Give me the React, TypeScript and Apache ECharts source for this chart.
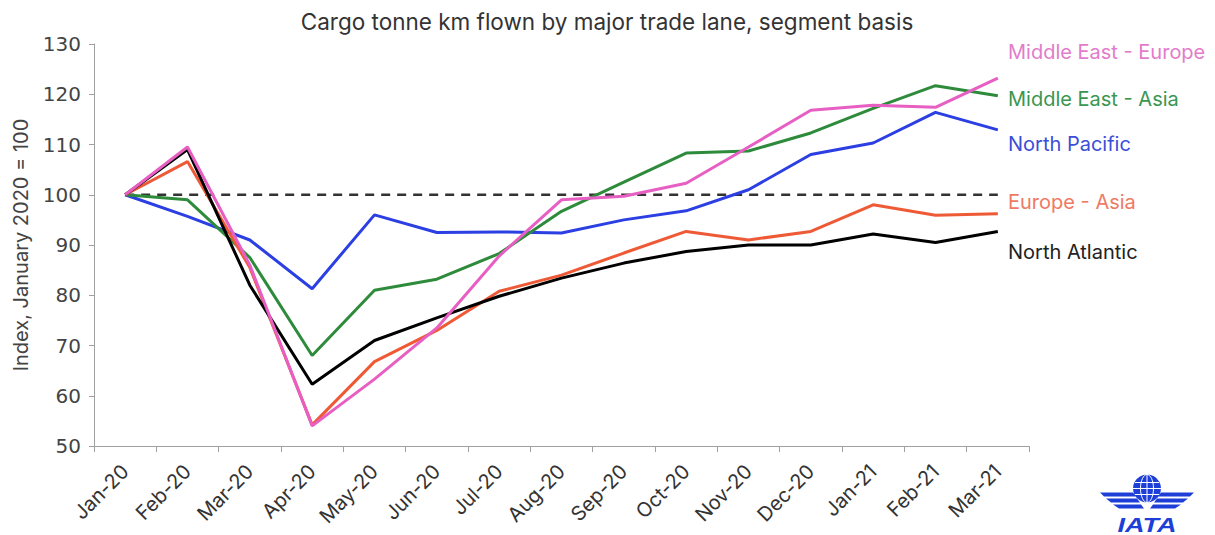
import React, { useEffect, useRef } from "react";
import * as echarts from "echarts";

const categories = [
  "Jan-20", "Feb-20", "Mar-20", "Apr-20", "May-20", "Jun-20", "Jul-20", "Aug-20",
  "Sep-20", "Oct-20", "Nov-20", "Dec-20", "Jan-21", "Feb-21", "Mar-21",
];

const middleEastEurope = [100, 109.5, 86, 54, 63.3, 73.5, 87.8, 99, 99.7, 102.3, 109.5, 116.8, 117.8, 117.4, 123.2];
const middleEastAsia = [100, 99, 87.5, 68, 81, 83.2, 88.3, 96.7, 102.5, 108.3, 108.7, 112.3, 117.2, 121.7, 119.7];
const northPacific = [100, 95.7, 91, 81.3, 96, 92.5, 92.6, 92.4, 95, 96.8, 101, 108, 110.3, 116.4, 112.9];
const europeAsia = [100, 106.6, 85.5, 54.2, 66.8, 73, 80.8, 84, 88.4, 92.7, 91, 92.7, 98, 95.9, 96.2];
const northAtlantic = [100, 109, 82, 62.3, 71, 75.5, 79.8, 83.4, 86.4, 88.7, 90, 90, 92.2, 90.5, 92.7];
const baseline = categories.map(() => 100);

const yTicks = { min: 50, max: 130, interval: 10 };

const labels = [
  { text: "Middle East - Europe", color: "#e27ccb", y: 54 },
  { text: "Middle East - Asia", color: "#3a9651", y: 101 },
  { text: "North Pacific", color: "#3b4ed8", y: 146 },
  { text: "Europe - Asia", color: "#ee7a63", y: 204 },
  { text: "North Atlantic", color: "#222222", y: 254 },
];

export default function App() {
  const ref = useRef<HTMLDivElement>(null);

  useEffect(() => {
    if (!ref.current) return;
    const chart = echarts.init(ref.current, null, { renderer: "svg" });
    const font = "Inter, 'Noto Sans', sans-serif";
    const numFont = "'DejaVu Sans', sans-serif";
    const mk = (name: string, data: number[], color: string, width = 3, dashed = false, z = 2) => ({
      name,
      type: "line",
      data,
      symbol: "none",
      z,
      lineStyle: { color, width, type: dashed ? [9, 7] : "solid" },
      itemStyle: { color },
      emphasis: { disabled: true },
    });
    const blue = "#2b3fe2";
    const iataBlue = "#1d3fd8";
    chart.setOption({
      animation: false,
      textStyle: { fontFamily: font },
      title: {
        text: "Cargo tonne km flown by major trade lane, segment basis",
        left: 602,
        top: 5,
        textAlign: "center",
        textStyle: { fontSize: 22.5, fontWeight: "normal", color: "#333", fontFamily: font },
      },
      grid: { left: 94, right: 186, top: 44, bottom: 89, containLabel: false },
      xAxis: {
        type: "category",
        data: categories,
        boundaryGap: true,
        axisLine: { lineStyle: { color: "#a0a0a0", width: 1 } },
        axisTick: { show: true, length: 6, lineStyle: { color: "#a0a0a0" } },
        axisLabel: { rotate: 45, interval: 0, fontSize: 20, color: "#333", margin: 22, fontFamily: font },
        splitLine: { show: false },
      },
      yAxis: {
        type: "value",
        min: yTicks.min,
        max: yTicks.max,
        interval: yTicks.interval,
        name: "Index, January 2020 = 100",
        nameLocation: "middle",
        nameRotate: 90,
        nameGap: 63,
        nameTextStyle: { fontSize: 20, color: "#444", fontFamily: font },
        axisLine: { show: true, lineStyle: { color: "#a0a0a0", width: 1 } },
        axisTick: { show: true, length: 5, lineStyle: { color: "#a0a0a0" } },
        axisLabel: { fontSize: 20, color: "#444", margin: 13, fontFamily: numFont },
        splitLine: { show: false },
      },
      series: [
        mk("Baseline", baseline, "#333333", 2.5, true, 1),
        mk("North Pacific", northPacific, blue),
        mk("Middle East - Asia", middleEastAsia, "#2e8b3c"),
        mk("Europe - Asia", europeAsia, "#ef5a36"),
        mk("North Atlantic", northAtlantic, "#000000"),
        mk("Middle East - Europe", middleEastEurope, "#e85fc3"),
      ],
      graphic: [
        ...labels.map((l) => ({
          type: "text",
          left: 1008,
          top: l.y - 12,
          style: { text: l.text, fill: l.color, fontSize: 20, fontFamily: font },
        })),
        {
          type: "group",
          left: 1100,
          top: 472,
          children: [
            { type: "circle", shape: { cx: 47, cy: 15, r: 14 }, style: { fill: iataBlue } },
            { type: "ellipse", shape: { cx: 47, cy: 15, rx: 6.5, ry: 14 }, style: { fill: "none", stroke: "#ffffff", lineWidth: 1 } },
            { type: "line", shape: { x1: 47, y1: 1, x2: 47, y2: 29 }, style: { stroke: "#ffffff", lineWidth: 1 } },
            { type: "line", shape: { x1: 35, y1: 9, x2: 59, y2: 9 }, style: { stroke: "#ffffff", lineWidth: 1 } },
            { type: "line", shape: { x1: 33, y1: 15, x2: 61, y2: 15 }, style: { stroke: "#ffffff", lineWidth: 1 } },
            { type: "line", shape: { x1: 35, y1: 21, x2: 59, y2: 21 }, style: { stroke: "#ffffff", lineWidth: 1 } },
            { type: "polygon", shape: { points: [[0, 19], [33, 19], [36, 23], [4, 23]] }, style: { fill: iataBlue } },
            { type: "polygon", shape: { points: [[6, 25], [37, 25], [40, 29], [11, 29]] }, style: { fill: iataBlue } },
            { type: "polygon", shape: { points: [[13, 31], [41, 31], [44, 35], [19, 35]] }, style: { fill: iataBlue } },
            { type: "polygon", shape: { points: [[94, 19], [61, 19], [58, 23], [90, 23]] }, style: { fill: iataBlue } },
            { type: "polygon", shape: { points: [[88, 25], [57, 25], [54, 29], [83, 29]] }, style: { fill: iataBlue } },
            { type: "polygon", shape: { points: [[81, 31], [53, 31], [50, 35], [75, 35]] }, style: { fill: iataBlue } },
            {
              type: "text",
              x: 47,
              y: 51,
              scaleX: 1.35,
              style: {
                text: "IATA",
                fill: iataBlue,
                fontSize: 20,
                fontWeight: "bold",
                fontStyle: "italic",
                fontFamily: "'Liberation Sans', Arial, sans-serif",
                align: "center",
                verticalAlign: "middle",
              },
            },
          ],
        },
      ],
    });
    return () => chart.dispose();
  }, []);

  return (
    <div
      ref={ref}
      style={{ position: "absolute", left: 0, top: 0, width: 1215, height: 535, background: "#fff" }}
    />
  );
}
